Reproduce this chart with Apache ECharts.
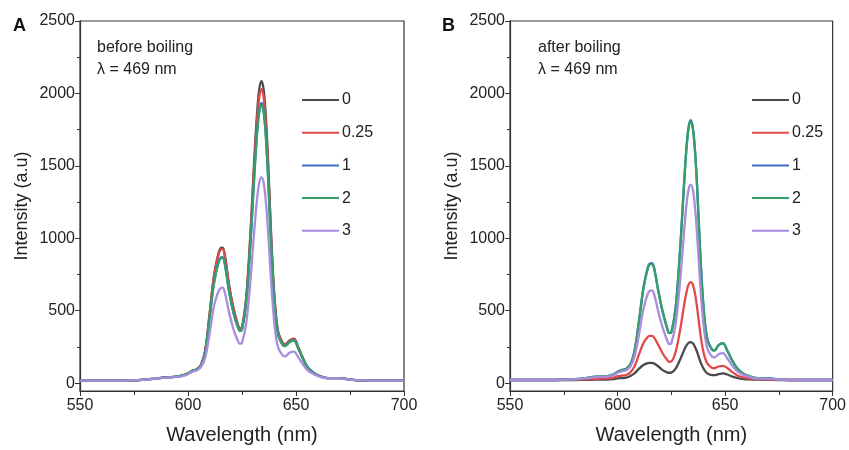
<!DOCTYPE html>
<html>
<head>
<meta charset="utf-8">
<script src="https://cdn.jsdelivr.net/npm/echarts@6/dist/echarts.min.js"></script>
<style>
html,body{margin:0;padding:0;background:#fff;}
#chart{width:849px;height:450px;}
</style>
</head>
<body>
<div id="chart"></div>
<script>
// Wavelength grid (nm)
var wavelengths = [550,560,570,580,585,590,595,598,600,602,604,606,608,610,612,614,615,616,617,619,621,623,624,625,627,629,630,631,632,633,634,635,636,637,638,639,640,641,642,644,645,647,649,651,653,655,657,660,665,670,675,680,690,700];

var seriesNames = ['0', '0.25', '1', '2', '3'];
var xTicks = [550, 600, 650, 700];
var yTicks = [0, 500, 1000, 1500, 2000, 2500];
var yMinorTicks = [250, 750, 1250, 1750, 2250];

// Panel A: before boiling
var beforeS0 = [18,18,18,24,32,40,45,55,68,85,95,125,230,480,740,890,930,935,890,680,520,410,378,385,600,1060,1350,1630,1870,2030,2085,2030,1850,1560,1200,860,600,430,340,275,270,295,308,250,180,120,85,55,35,35,25,20,18,18];
var beforeS025 = [18,18,18,24,32,40,45,55,68,85,95,125,228,475,732,880,920,925,880,672,515,405,372,380,590,1035,1315,1585,1820,1975,2030,1975,1800,1520,1170,840,590,425,335,272,267,292,305,247,178,118,84,55,35,35,25,20,18,18];
var beforeS1 = [18,18,18,24,32,40,45,55,68,85,95,120,215,450,690,830,865,870,830,635,490,390,362,370,565,990,1255,1515,1738,1885,1935,1885,1720,1450,1115,800,560,405,322,262,258,285,298,243,175,117,84,55,35,35,25,20,18,18];
var beforeS2 = [18,18,18,24,32,40,45,55,68,85,95,120,215,448,686,826,860,865,826,632,488,388,360,368,562,983,1245,1503,1725,1870,1920,1870,1707,1440,1108,795,557,403,320,260,256,283,296,241,174,116,83,55,35,35,25,20,18,18];
var beforeS3 = [18,18,18,24,31,38,43,50,62,78,88,110,180,340,530,630,655,660,628,490,375,295,272,278,420,725,925,1110,1275,1385,1420,1385,1260,1065,820,590,410,295,235,190,185,210,218,180,135,95,72,50,33,33,24,20,18,18];

// Panel B: after boiling
var afterS0 = [22,22,22,22,23,24,25,28,33,35,38,50,70,100,125,138,140,140,135,115,90,75,72,73,100,160,195,230,260,278,283,275,250,215,170,130,100,78,65,55,55,63,68,60,48,38,32,27,24,24,22,22,22,22];
var afterS025 = [22,22,22,24,27,30,33,38,48,52,56,75,120,200,275,318,327,327,315,262,205,162,148,150,215,360,450,545,625,680,698,680,620,520,400,290,210,160,130,105,103,115,120,105,80,60,45,35,28,27,24,22,22,22];
var afterS1 = [22,22,22,28,35,45,48,60,78,90,100,130,232,435,655,796,826,828,796,635,494,383,347,352,523,905,1146,1398,1620,1766,1815,1766,1610,1358,1036,744,522,371,291,231,226,263,276,226,166,116,82,55,35,35,25,22,22,22];
var afterS2 = [22,22,22,28,35,45,48,60,78,90,100,130,230,430,650,790,820,822,790,630,490,380,345,350,520,900,1140,1390,1610,1755,1805,1755,1600,1350,1030,740,520,370,290,230,225,262,275,225,165,115,82,55,35,35,25,22,22,22];
var afterS3 = [22,22,22,27,33,42,45,55,72,82,90,115,190,340,510,615,638,640,615,490,382,298,270,275,410,690,870,1060,1225,1335,1370,1335,1215,1020,785,565,400,290,230,182,178,200,208,172,128,92,68,48,32,32,25,22,22,22];

var colors = ['#4a4a4a', '#e04a4a', '#3a70c0', '#35a066', '#a98be0'];

function pairs(vals) {
  return wavelengths.map(function (w, i) { return [w, vals[i]]; });
}

var beforeData = [beforeS0, beforeS025, beforeS1, beforeS2, beforeS3];
var afterData = [afterS0, afterS025, afterS1, afterS2, afterS3];

var fontFamily = '"Liberation Sans", Arial, sans-serif';
var axisColor = '#333';

function makeX(gridIndex) {
  return {
    type: 'value', gridIndex: gridIndex, min: 550, max: 700, interval: 50,
    name: 'Wavelength (nm)', nameLocation: 'middle', nameGap: 34,
    nameTextStyle: { fontSize: 20, color: '#222', fontFamily: fontFamily },
    axisLine: { show: true, onZero: false, lineStyle: { color: axisColor, width: 1.2 } },
    axisTick: { show: true, inside: false, length: 5, lineStyle: { color: axisColor } },
    minorTick: { show: true, splitNumber: 2, length: 4, lineStyle: { color: axisColor } },
    axisLabel: { fontSize: 16, color: '#222', margin: 7, fontFamily: fontFamily,
      customValues: xTicks, formatter: function (v) { return String(v); } },
    splitLine: { show: false }
  };
}
function makeYMain(gridIndex) {
  return {
    type: 'value', gridIndex: gridIndex, min: -54, max: 2500,
    name: 'Intensity (a.u)', nameLocation: 'middle', nameGap: 49,
    nameTextStyle: { fontSize: 18, color: '#222', fontFamily: fontFamily },
    axisLine: { show: true, onZero: false, lineStyle: { color: axisColor, width: 1.2 } },
    axisTick: { show: true, inside: false, length: 5, lineStyle: { color: axisColor }, customValues: yTicks },
    axisLabel: { fontSize: 16, color: '#222', margin: 5, fontFamily: fontFamily, customValues: yTicks,
      formatter: function (v) { return String(v); } },
    splitLine: { show: false }
  };
}
function makeYMinor(gridIndex) {
  return {
    type: 'value', gridIndex: gridIndex, min: -54, max: 2500, position: 'left',
    axisLine: { show: false, onZero: false },
    axisTick: { show: true, inside: false, length: 3, lineStyle: { color: axisColor }, customValues: yMinorTicks },
    axisLabel: { show: false, customValues: yMinorTicks },
    splitLine: { show: false }
  };
}

var series = [];
for (var i = 0; i < seriesNames.length; i++) {
  series.push({
    name: seriesNames[i], type: 'line', xAxisIndex: 0, yAxisIndex: 0,
    data: pairs(beforeData[i]), smooth: 0.35, showSymbol: false, symbol: 'none',
    lineStyle: { color: colors[i], width: 2.3 }, itemStyle: { color: colors[i] }, z: 2 + i
  });
}
for (var j = 0; j < seriesNames.length; j++) {
  series.push({
    name: seriesNames[j], type: 'line', xAxisIndex: 1, yAxisIndex: 2,
    data: pairs(afterData[j]), smooth: 0.35, showSymbol: false, symbol: 'none',
    lineStyle: { color: colors[j], width: 2.3 }, itemStyle: { color: colors[j] }, z: 2 + j
  });
}

function makeLegend(left) {
  return {
    data: seriesNames, orient: 'vertical', left: left, top: 91, padding: 0,
    icon: 'rect', itemWidth: 37, itemHeight: 2, itemGap: 14.7,
    textStyle: { fontSize: 16, lineHeight: 18, color: '#222', fontFamily: fontFamily, padding: [0, 0, 0, -2] },
    selectedMode: false
  };
}

var option = {
  animation: false,
  backgroundColor: '#fff',
  grid: [
    { left: 80, right: 445, top: 21, bottom: 52, show: true, borderColor: axisColor, borderWidth: 1.2, backgroundColor: 'transparent' },
    { left: 510, right: 15, top: 21, bottom: 52, show: true, borderColor: axisColor, borderWidth: 1.2, backgroundColor: 'transparent' }
  ],
  xAxis: [makeX(0), makeX(1)],
  yAxis: [makeYMain(0), makeYMinor(0), makeYMain(1), makeYMinor(1)],
  legend: [makeLegend(302), makeLegend(752)],
  title: [
    { text: 'A', left: 13, top: 17, padding: 0, textStyle: { fontSize: 18, fontWeight: 'bold', color: '#111', fontFamily: fontFamily } },
    { text: 'B', left: 442, top: 17, padding: 0, textStyle: { fontSize: 18, fontWeight: 'bold', color: '#111', fontFamily: fontFamily } }
  ],
  graphic: [
    { type: 'text', left: 97, top: 40, style: { text: 'before boiling', fontSize: 16, fill: '#222', fontFamily: fontFamily } },
    { type: 'text', left: 97, top: 62, style: { text: 'λ = 469 nm', fontSize: 16, fill: '#222', fontFamily: fontFamily } },
    { type: 'text', left: 538, top: 40, style: { text: 'after boiling', fontSize: 16, fill: '#222', fontFamily: fontFamily } },
    { type: 'text', left: 538, top: 62, style: { text: 'λ = 469 nm', fontSize: 16, fill: '#222', fontFamily: fontFamily } }
  ],
  series: series
};

var chart = echarts.init(document.getElementById('chart'), null, { renderer: 'canvas' });
chart.setOption(option);
</script>
</body>
</html>
